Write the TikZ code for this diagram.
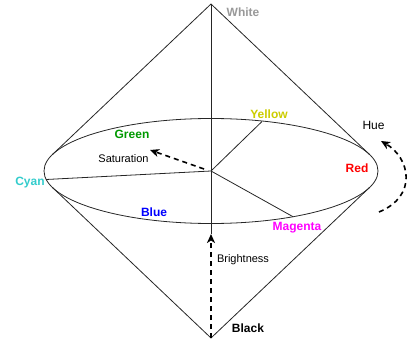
\documentclass[tikz,border=0pt]{standalone}
\usepackage{fontspec}
\setmainfont{Liberation Sans}
\usetikzlibrary{arrows.meta}
\definecolor{cwhite}{HTML}{999999}
\definecolor{cyellow}{HTML}{CCCC00}
\definecolor{cgreen}{HTML}{009900}
\definecolor{ccyan}{HTML}{33CCCC}
\definecolor{cred}{HTML}{FF0000}
\definecolor{cblue}{HTML}{0000FF}
\definecolor{cmagenta}{HTML}{FF00FF}
\tikzset{
  edge/.style={draw=black!85, line width=0.8pt},
  dasharrow/.style={draw=black, line width=1.6pt, dash pattern=on 5pt off 4pt,
    -{Stealth[length=9pt,width=8pt,inset=2.5pt]}},
  lbl/.style={inner sep=0pt, text height=8.6pt, text depth=0pt, font=\fontsize{12pt}{14pt}\selectfont\bfseries},
  plain/.style={inner sep=0pt, text height=8pt, text depth=0pt, font=\fontsize{11pt}{13pt}\selectfont},
}
\begin{document}
\begin{tikzpicture}[x=1pt,y=-1pt]
\useasboundingbox (0,0) rectangle (411,347);
\coordinate (top) at (211,4);
\coordinate (bot) at (211,338);
\coordinate (c) at (211,171);
\coordinate (tl) at (52.5,154.5);
\coordinate (tr) at (369.5,154.5);
\coordinate (bl) at (52.5,187.5);
\coordinate (br) at (369.5,187.5);
\coordinate (pc) at (46,179.5);
\coordinate (py) at (262,121.5);
\coordinate (pm) at (293,216.7);
\coordinate (btip) at (211,234);
\coordinate (stail) at (204,169);
\coordinate (stip) at (150,150);
\coordinate (htail) at (379,212);
\coordinate (htip) at (381,141);
% cone
\draw[edge] (top) -- (tl);
\draw[edge] (top) -- (tr);
\draw[edge] (bot) -- (bl);
\draw[edge] (bot) -- (br);
\draw[edge] (c) ellipse [x radius=167pt, y radius=52.5pt];
\draw[edge] (top) -- (btip);
% spokes
\draw[edge] (c) -- (pc);
\draw[edge] (c) -- (py);
\draw[edge] (c) -- (pm);
% arrows
\draw[dasharrow] (bot) -- (btip);
\draw[dasharrow] (stail) -- (stip);
\draw[dasharrow] (htail) .. controls (418,196) and (410,158) .. (htip);
% labels
\node[lbl, text=cwhite] (white) at (243,12.5) {White};
\node[lbl, text=cyellow] (yellow) at (269,114) {Yellow};
\node[lbl, text=cgreen] (green) at (132,134) {Green};
\node[plain] (sat) at (123.5,158) {Saturation};
\node[lbl, text=ccyan] (cyan) at (30,181) {Cyan};
\node[lbl, text=cred] (red) at (357,168) {Red};
\node[lbl, font=\fontsize{12pt}{14pt}\selectfont] (hue) at (373.5,125) {Hue};
\node[lbl, text=cblue] (blue) at (154,212) {Blue};
\node[lbl, text=cmagenta] (magenta) at (297,226) {Magenta};
\node[plain] (bright) at (243,258) {Brightness};
\node[lbl] (black) at (248,328.5) {Black};
\end{tikzpicture}
\end{document}
